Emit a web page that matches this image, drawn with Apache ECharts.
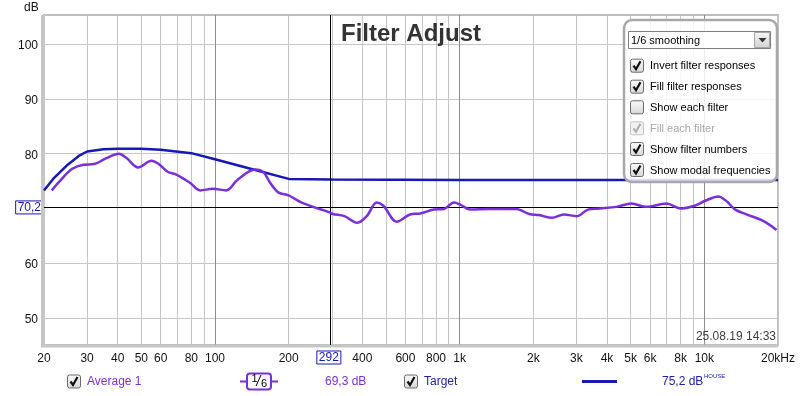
<!DOCTYPE html>
<html><head><meta charset="utf-8">
<script src="https://cdn.jsdelivr.net/npm/echarts@6/dist/echarts.min.js"></script>
<style>html,body{margin:0;padding:0;background:#fff}#c{width:800px;height:396px}</style>
</head><body><div id="c"></div>
<script>
// ---- data ----
const avgFreq = [21.5,23.2,26,29,32,36,40.5,43.5,48.5,55,58.5,64,69.5,79,87,98,111,124,146,158,168,182,200,223,252,268,294,303,338,382,417,458,488,553,627,691,783,862,947,1006,1105,1331,1700,1924,2110,2387,2664,3013,3343,3735,4371,5036,5787,6986,8048,8990,10200,11390,12350,13370,14950,17460,19730];
const avgDb = [73.3,75.0,77.2,78.0,78.1,79.2,80.0,79.2,77.5,78.7,78.2,76.7,76.2,74.7,73.3,73.6,73.3,75.3,77.1,76.6,74.7,72.9,72.4,71.2,70.3,69.9,69.3,69.0,68.6,67.4,68.6,71.1,70.5,67.6,68.9,69.1,69.8,69.9,71.1,70.7,69.8,69.9,69.9,69.0,68.8,68.3,68.9,68.6,69.8,70.0,70.3,70.9,70.3,70.9,70.0,70.4,71.5,72.2,71.3,69.8,68.9,67.7,66.1];
const targetFreq = [20,22,25,28,30,35,40,50,60,80,100,150,200,300,1000,20000];
const targetDb = [73.3,75.6,78.0,79.7,80.4,80.8,80.9,80.9,80.7,80.1,79.0,76.9,75.4,75.3,75.2,75.2];
const xTickLabels = [20,30,40,50,60,80,100,200,292,400,600,800,1000,2000,3000,4000,5000,6000,8000,10000,20000];
const xGridMinor = [20,30,40,50,60,70,80,90,200,300,400,500,600,700,800,900,2000,3000,4000,5000,6000,7000,8000,9000,20000];
const xGridMajor = [100,1000,10000];
const yTickLabels = [50,60,70.2,80,90,100];
const cursorFreq = 292, cursorDb = 70.2;
const legendTexts = ['Average 1','69,3 dB','Target','75,2 dB'];
const panelRows = ['Invert filter responses','Fill filter responses','Show each filter','Fill each filter','Show filter numbers','Show modal frequencies'];
const panelChecked = [true,true,false,true,true,true];
const panelDisabled = [false,false,false,true,false,false];

// ---- helpers ----
const L = f => Math.log10(f);
const FONT = 'Liberation Sans, Arial, sans-serif';
const PURPLE = '#7a2fd8', BLUE = '#1818b4', BLUETXT = '#2020a8';

function fmtFreq(v){
  const f = Math.round(Math.pow(10, v));
  if (f === cursorFreq) return '{b|' + f + '}';
  if (f === 20000) return '{n|20kHz}';
  if (f >= 1000) return '{n|' + (f/1000) + 'k}';
  return '{n|' + f + '}';
}
function fmtDb(v){
  if (Math.abs(v - cursorDb) < 0.01) return '{b|70,2}';
  return '{n|' + Math.round(v) + '}';
}

function checkbox(x, y, checked, disabled){
  const els = [{
    type:'rect', z:101, shape:{x:x+0.5, y:y+0.5, width:13, height:13, r:2},
    style:{fill: disabled ? '#f2f2f2' : new echarts.graphic.LinearGradient(0,0,0,1,[{offset:0,color:'#fbfbfb'},{offset:1,color:'#d6d6d6'}]),
           stroke: disabled ? '#c4c4c4' : '#6a6a6a', lineWidth:1}
  }];
  if (checked) els.push({
    type:'polyline', z:102, shape:{points:[[x+3.5,y+7],[x+6,y+10.5],[x+10.5,y+2.5]]},
    style:{stroke: disabled ? '#b0b0b0' : '#111', lineWidth:2.2, fill:null}
  });
  return els;
}

const graphics = [];
// frame shadow left / bottom
graphics.push({type:'rect', z:1, shape:{x:41,y:15,width:3,height:332}, style:{fill:'#c6c6c6'}});
graphics.push({type:'rect', z:1, shape:{x:41,y:344.5,width:737,height:3}, style:{fill:'#c6c6c6'}});
// dB label
graphics.push({type:'text', z:100, x:24, y:8, style:{text:'dB', font:'12px '+FONT, fill:'#111', verticalAlign:'middle'}});
// title
graphics.push({type:'text', z:100, x:411, y:34, style:{text:'Filter Adjust', font:'bold 24px '+FONT, fill:'#333', textAlign:'center', verticalAlign:'middle'}});
// timestamp
graphics.push({type:'text', z:100, x:776, y:337, style:{text:'25.08.19 14:33', font:'12px '+FONT, fill:'#404040', textAlign:'right', verticalAlign:'middle'}});

// panel
graphics.push({type:'rect', z:100, shape:{x:624,y:20,width:153,height:162,r:8}, style:{fill:'rgba(255,255,255,0.84)', stroke:'#a8a8a8', lineWidth:2.5}});
graphics.push({type:'rect', z:101, shape:{x:628.5,y:31.5,width:142,height:17}, style:{fill:'#fff', stroke:'#7f7f7f', lineWidth:1}});
graphics.push({type:'rect', z:102, shape:{x:754.5,y:32.5,width:15,height:15}, style:{fill:new echarts.graphic.LinearGradient(0,0,0,1,[{offset:0,color:'#f6f6f6'},{offset:1,color:'#d2d2d2'}]), stroke:'#a6a6a6', lineWidth:1}});
graphics.push({type:'polygon', z:103, shape:{points:[[758.5,38],[766.5,38],[762.5,42.5]]}, style:{fill:'#333'}});
graphics.push({type:'text', z:102, x:631, y:40.5, style:{text:'1/6 smoothing', font:'11px '+FONT, fill:'#000', verticalAlign:'middle'}});
const rowY = [65.7,86.7,107.3,128.3,149,170];
panelRows.forEach((t,i)=>{
  checkbox(630, rowY[i]-7, panelChecked[i], panelDisabled[i]).forEach(e=>graphics.push(e));
  graphics.push({type:'text', z:101, x:650, y:rowY[i]+0.5, style:{text:t, font:'11px '+FONT, fill: panelDisabled[i] ? '#a9a9a9' : '#000', verticalAlign:'middle'}});
});

// legend row
const LY = 381.5;
checkbox(67, LY-7, true, false).forEach(e=>graphics.push(e));
graphics.push({type:'text', z:101, x:87, y:LY, style:{text:legendTexts[0], font:'12px '+FONT, fill:PURPLE, verticalAlign:'middle'}});
graphics.push({type:'line', z:100, shape:{x1:240,y1:LY,x2:278,y2:LY}, style:{stroke:PURPLE, lineWidth:2}});
graphics.push({type:'rect', z:101, shape:{x:247,y:373.5,width:24,height:16,r:3}, style:{fill:'#fff', stroke:PURPLE, lineWidth:2}});
graphics.push({type:'text', z:102, x:254.5, y:378.5, style:{text:'1', font:'11px '+FONT, fill:'#000', textAlign:'center', verticalAlign:'middle'}});
graphics.push({type:'line', z:102, shape:{x1:256,y1:386,x2:261,y2:375}, style:{stroke:'#000', lineWidth:1}});
graphics.push({type:'text', z:102, x:264, y:384, style:{text:'6', font:'11px '+FONT, fill:'#000', textAlign:'center', verticalAlign:'middle'}});
graphics.push({type:'text', z:101, x:325, y:LY, style:{text:legendTexts[1], font:'12px '+FONT, fill:PURPLE, verticalAlign:'middle'}});
checkbox(404, LY-7, true, false).forEach(e=>graphics.push(e));
graphics.push({type:'text', z:101, x:424, y:LY, style:{text:legendTexts[2], font:'12px '+FONT, fill:BLUETXT, verticalAlign:'middle'}});
graphics.push({type:'line', z:100, shape:{x1:582,y1:LY,x2:617,y2:LY}, style:{stroke:BLUE, lineWidth:3}});
graphics.push({type:'text', z:101, x:662, y:LY, style:{text:legendTexts[3], font:'12px '+FONT, fill:BLUETXT, verticalAlign:'middle'}});
graphics.push({type:'text', z:101, x:704, y:376, style:{text:'HOUSE', font:'6px '+FONT, fill:BLUETXT, verticalAlign:'middle'}});

const chart = echarts.init(document.getElementById('c'), null, {renderer:'canvas'});
chart.setOption({
  animation:false,
  textStyle:{fontFamily:FONT},
  grid:{left:44, right:22, top:15, bottom:51, show:true, borderColor:'#bdbdbd', borderWidth:2, backgroundColor:'#fff'},
  xAxis:[{
    type:'value', min:L(20), max:L(20000),
    axisLine:{show:false},
    axisTick:{show:false, customValues:xGridMinor.map(L)},
    splitLine:{show:true, lineStyle:{color:'#c6c6c6', width:1}},
    axisLabel:{customValues:xTickLabels.map(L), formatter:fmtFreq, margin:6, color:'#111', fontSize:12,
      rich:{n:{fontSize:12, color:'#111', padding:[2,0,0,0]}, b:{fontSize:12, color:BLUE, borderColor:BLUE, borderWidth:1, padding:[1,2,0,2]}}}
  },{
    type:'value', min:L(20), max:L(20000), position:'bottom',
    axisLine:{show:false},
    axisTick:{show:false, customValues:xGridMajor.map(L)},
    splitLine:{show:true, lineStyle:{color:'#8e8e8e', width:1}},
    axisLabel:{show:false}
  }],
  yAxis:{
    type:'value', min:45.1, max:105.3,
    axisLine:{show:false},
    axisTick:{show:false, customValues:yTickLabels},
    splitLine:{show:true, lineStyle:{color:'#c6c6c6', width:1}},
    axisLabel:{customValues:yTickLabels, formatter:fmtDb, margin:1, color:'#111',
      rich:{n:{fontSize:12, color:'#111', padding:[3,5,0,0]}, b:{fontSize:12, color:BLUE, borderColor:BLUE, borderWidth:1, padding:[1,2,0,2]}}}
  },
  series:[{
    type:'line', name:'Cursor', data:[], silent:true, z:3,
    markLine:{silent:true, symbol:'none', label:{show:false}, lineStyle:{color:'#000', width:1, type:'solid'},
      data:[{xAxis:L(cursorFreq)},{yAxis:cursorDb}]}
  },{
    type:'line', name:'Target', showSymbol:false, smooth:false, z:4,
    data:targetFreq.map((f,i)=>[L(f), targetDb[i]]),
    lineStyle:{color:BLUE, width:2.5}, itemStyle:{color:BLUE}
  },{
    type:'line', name:'Average 1', showSymbol:false, smooth:0.35, z:5,
    data:avgFreq.map((f,i)=>[L(f), avgDb[i]]),
    lineStyle:{color:PURPLE, width:2.5}, itemStyle:{color:PURPLE}
  }],
  graphic:graphics
});
</script></body></html>
